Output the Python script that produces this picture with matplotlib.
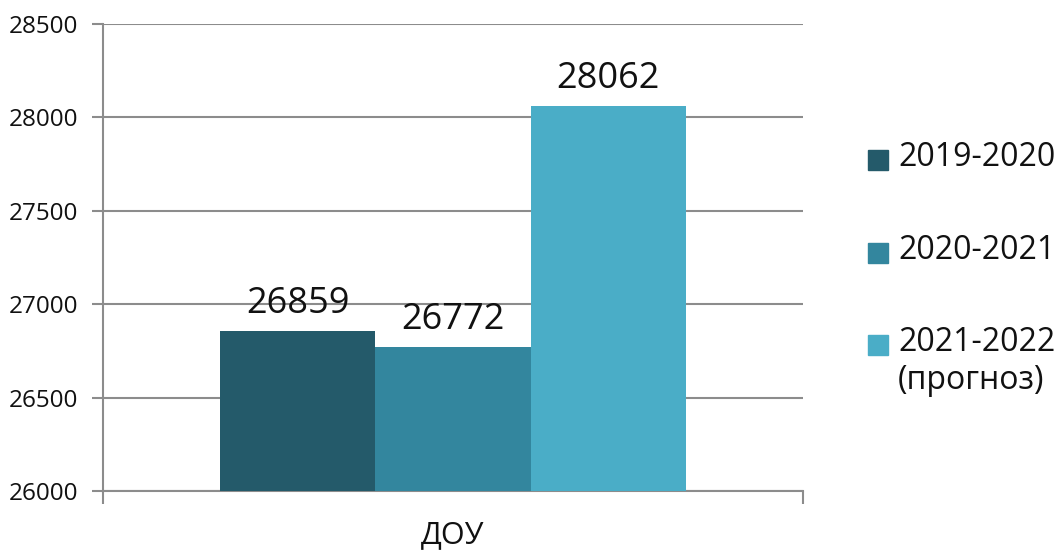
import matplotlib
matplotlib.use("Agg")
import matplotlib.pyplot as plt
from matplotlib.patches import Rectangle

plt.rcParams['font.family'] = ['Open Sans', 'DejaVu Sans']

category = "ДОУ"
series_labels = ["2019-2020", "2020-2021", "2021-2022\n(прогноз)"]
values = [26859, 26772, 28062]
colors = ["#245a6a", "#33869e", "#4aadc7"]
y_ticks = [26000, 26500, 27000, 27500, 28000, 28500]

fig = plt.figure(figsize=(10.62, 5.53), dpi=100)
ax = fig.add_axes([103/1062, 62/553, 700/1062, 467/553])

w = 0.2215
n = len(values)
offsets = [(i - (n - 1) / 2) * w for i in range(n)]
for off, v, c in zip(offsets, values, colors):
    ax.bar(off, v - y_ticks[0], width=w, bottom=y_ticks[0], color=c, zorder=3)
    ax.annotate(str(v), xy=(off, v), xytext=(0, 6), textcoords='offset points',
                ha='center', va='bottom', fontsize=26, color='#111111', zorder=4)

ax.set_xlim(-0.5, 0.5)
ax.set_ylim(y_ticks[0], y_ticks[-1])
ax.set_yticks(y_ticks)
ax.set_yticklabels([str(t) for t in y_ticks], fontsize=17.5, color='#111111')
ax.set_xticks([-0.5, 0.5])
ax.set_xticklabels([])
ax.tick_params(axis='x', direction='out', length=9, width=1.5, color='#8c8c8c')
ax.tick_params(axis='y', direction='out', length=8, width=1.5, color='#8c8c8c', pad=10)
ax.grid(axis='y', color='#8c8c8c', linewidth=1.5, zorder=0)
ax.set_axisbelow(True)
for s in ['top', 'right']:
    ax.spines[s].set_visible(False)
for s in ['left', 'bottom']:
    ax.spines[s].set_color('#8c8c8c')
    ax.spines[s].set_linewidth(1.5)

ax.text(0.5, -0.095, category, transform=ax.transAxes, ha='center', va='center',
        fontsize=22, color='#111111')

# legend drawn manually
leg_y = [160, 253, 345]
for y, lab, c in zip(leg_y, series_labels, colors):
    fig.add_artist(Rectangle((868/1062, 1 - (y + 10)/553), 20/1062, 20/553,
                             transform=fig.transFigure, color=c))
    fig.text(898/1062, 1 - (y - 19)/553, lab, ha='left', va='top', fontsize=23,
             color='#111111', linespacing=1.2)

fig.savefig("out.png", dpi=100)
